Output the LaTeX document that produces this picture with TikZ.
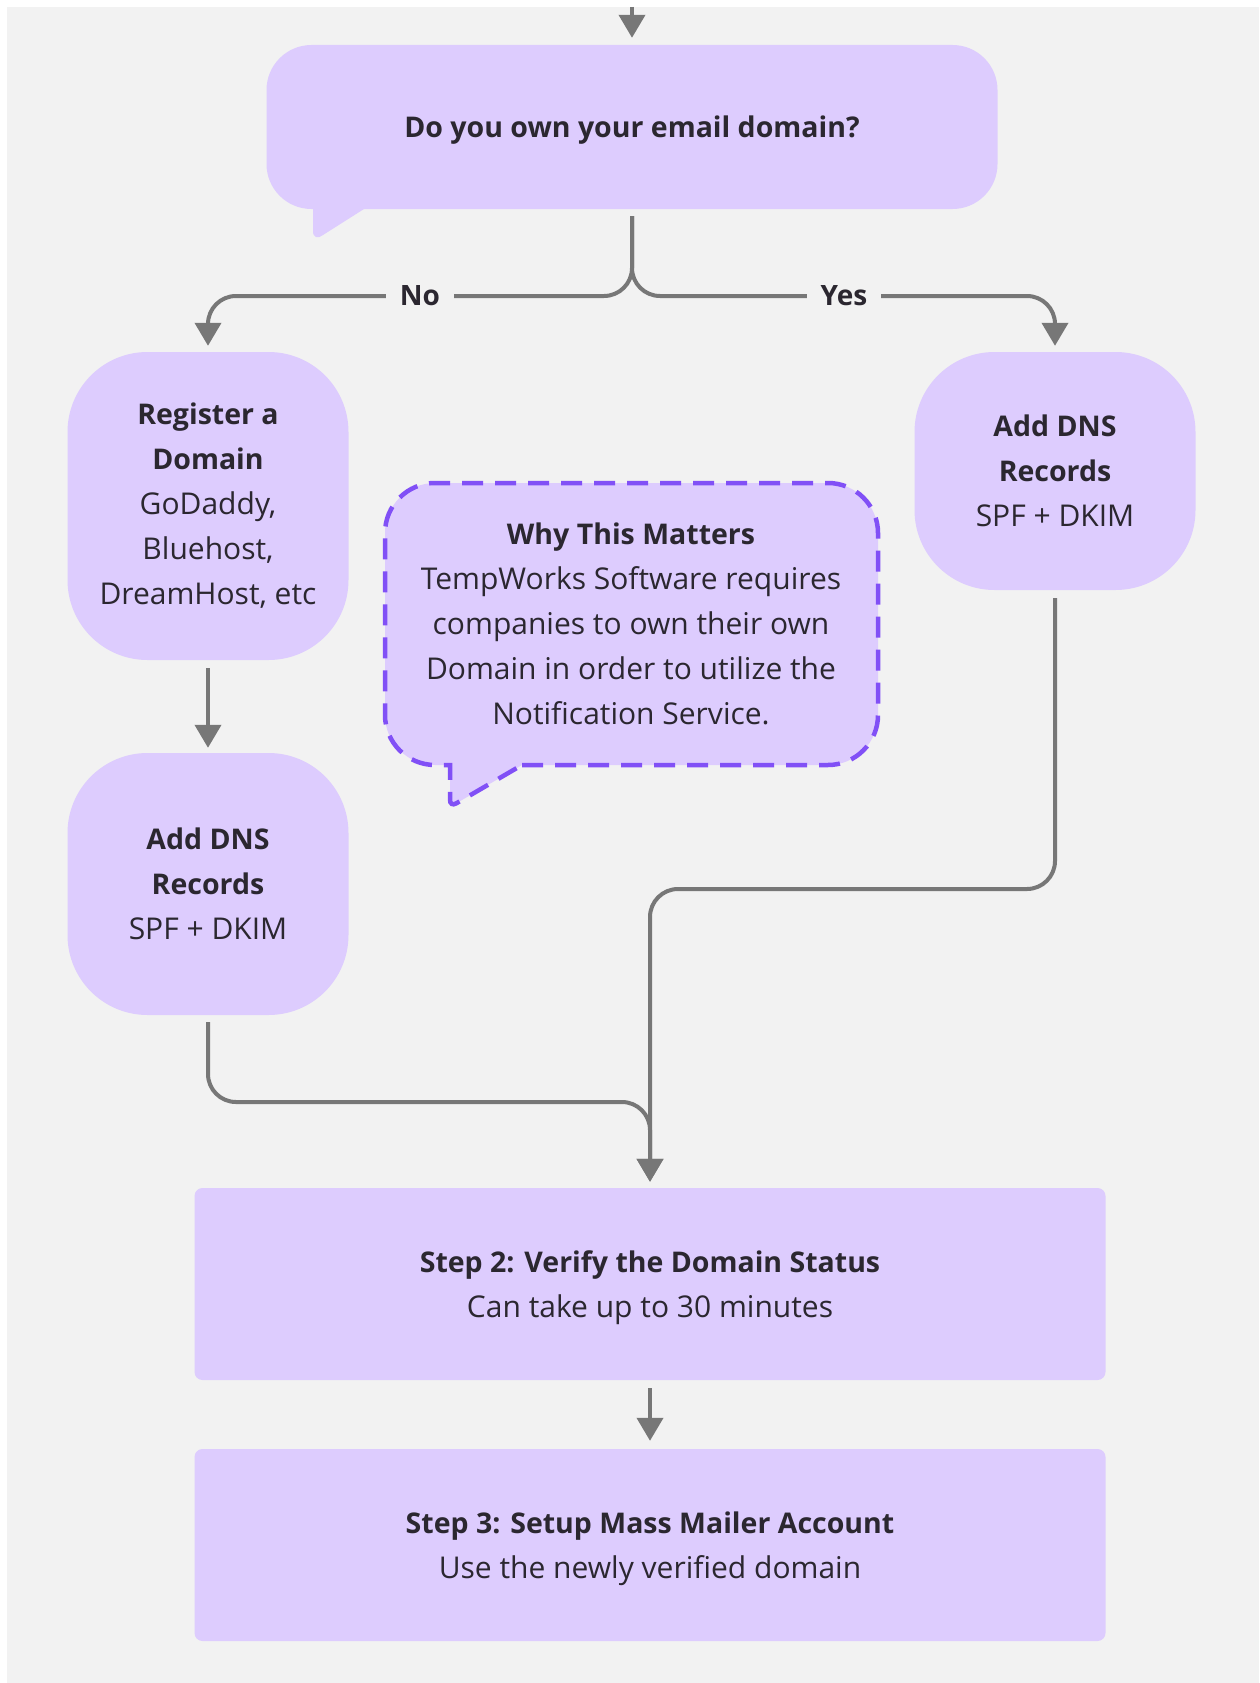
\documentclass[tikz,border=0pt]{standalone}
\usepackage{fontspec}
\setmainfont{Open Sans}
\usetikzlibrary{arrows.meta}
\definecolor{bg}{HTML}{F2F2F2}
\definecolor{lav}{HTML}{DDCCFE}
\definecolor{ink}{HTML}{2B2730}
\definecolor{connc}{HTML}{777777}
\definecolor{dashc}{HTML}{8150F6}
\newcommand\hd{\fontsize{28.5}{45}\selectfont\bfseries}
\tikzset{
 txt/.style={text=ink, align=center, inner sep=0pt, font=\fontsize{30}{45}\selectfont},
 roundnode/.style={txt, fill=lav, rounded corners=80pt, minimum width=281pt},
 stepbox/.style={txt, fill=lav, rounded corners=8pt, minimum width=911pt, minimum height=192pt, text depth=0pt},
 conn/.style={draw=connc, line width=4pt, rounded corners=28pt, -{Triangle[length=23pt,width=26pt]}},
 lbl/.style={fill=bg, text=ink, font=\fontsize{28}{33}\selectfont\bfseries, inner xsep=14pt, inner ysep=2pt},
 bubble/.style={fill=lav, draw=dashc, line width=4.5pt, dash pattern=on 21pt off 12pt},
}
\begin{document}
\begin{tikzpicture}[x=1pt,y=-1pt]
\useasboundingbox (0,0) rectangle (1259,1683);
\fill[white] (0,0) rectangle (1259,1683);
\fill[bg] (7,7) rectangle (1259,1683);

% decision bubble
\fill[lav] (313,200) -- (313,231) .. controls (313,238) and (318,239) .. (323,235) -- (364,209) -- (364,200) -- cycle;
\node[txt, fill=lav, rounded corners=45pt, minimum width=731pt, minimum height=164pt, text depth=0pt, font=\hd] (dec) at (632,127) {Do you own your email domain?};
\coordinate (top) at (632,7);

% process nodes
\node[roundnode, minimum height=308pt] (reg) at (208,506) {{\hd Register a}\\{\hd Domain}\\GoDaddy,\\Bluehost,\\DreamHost, etc};
\node[roundnode, minimum height=238pt] (rdns) at (1055,471) {{\hd Add DNS}\\{\hd Records}\\SPF + DKIM};
\node[roundnode, minimum height=262pt] (ldns) at (208,884) {{\hd Add DNS}\\{\hd Records}\\SPF + DKIM};
\node[stepbox] (s2) at (650,1284) {{\hd Step 2: Verify the Domain Status}\\Can take up to 30 minutes};
\node[stepbox] (s3) at (650,1545) {{\hd Step 3: Setup Mass Mailer Account}\\Use the newly verified domain};

% why this matters bubble
\draw[bubble] (522,765) [rounded corners=50pt] -- (878,765) -- (878,483) -- (385,483) -- (385,765) [sharp corners] -- (450,765) [rounded corners=7pt] -- (450,807) [sharp corners] -- (522,765) -- cycle;
\node[txt] (why) at (631,624) {{\hd Why This Matters}\\TempWorks Software requires\\companies to own their own\\Domain in order to utilize the\\Notification Service.};

% connectors
\draw[conn, shorten >=7pt] (top) -- (dec.north);
\draw[conn, shorten >=6pt] ([yshift=-7pt]dec.south) -- (632,296) -- (208,296) -- (reg.north);
\draw[conn, shorten >=6pt] ([yshift=-7pt]dec.south) -- (632,296) -- (1055,296) -- (rdns.north);
\node[lbl] (no) at (420,296) {No};
\node[lbl] (yes) at (844,296) {Yes};
\draw[conn, shorten >=5pt] ([yshift=-8pt]reg.south) -- (ldns.north);
\draw[conn, shorten >=6pt] ([yshift=-8pt]rdns.south) -- (1055,889) -- (650,889) -- (s2.north);
\draw[conn, shorten >=6pt] ([yshift=-7pt]ldns.south) -- (208,1102) -- (650,1102) -- (s2.north);
\draw[conn, shorten >=8pt] ([yshift=-8pt]s2.south) -- (s3.north);
\end{tikzpicture}
\end{document}
